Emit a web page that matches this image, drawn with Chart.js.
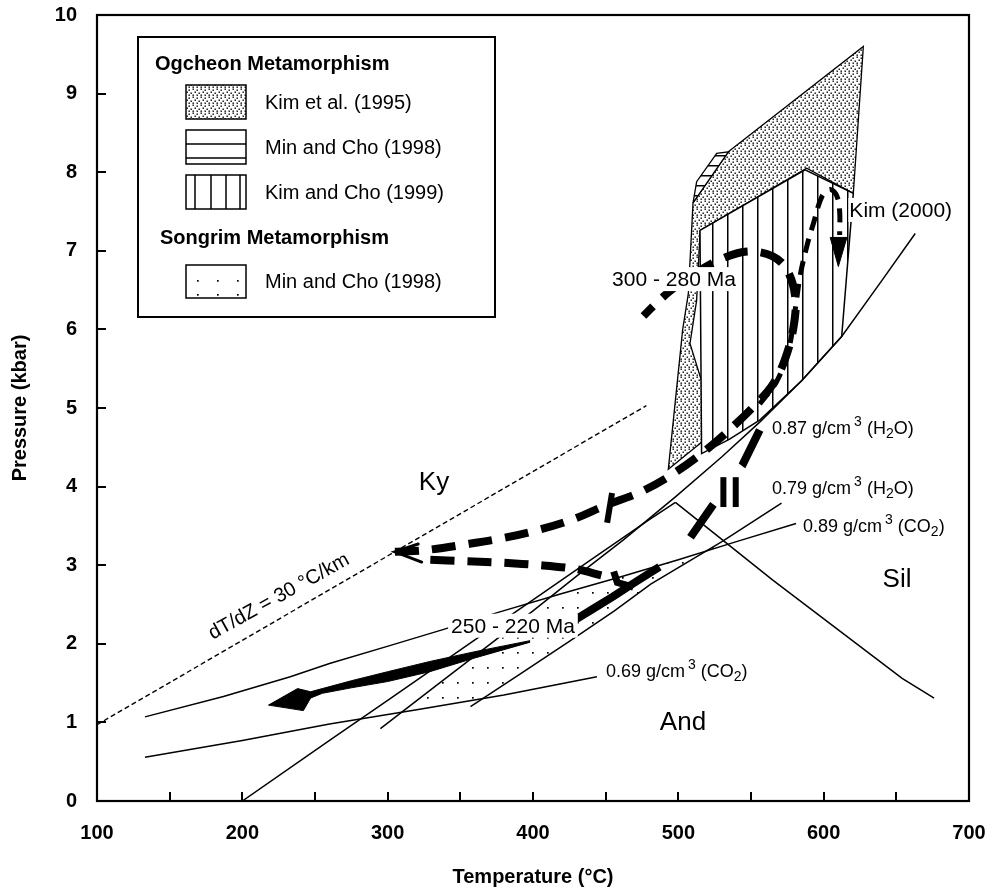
<!DOCTYPE html>
<html>
<head>
<meta charset="utf-8">
<title>P-T paths - Ogcheon and Songrim metamorphism</title>
<script src="https://cdn.jsdelivr.net/npm/chart.js@4.4.1/dist/chart.umd.min.js"></script>
<style>
  html, body { margin: 0; padding: 0; background: #fff; }
  #wrap { width: 990px; height: 895px; }
</style>
</head>
<body>
<div id="wrap"><canvas id="pt" width="990" height="895"></canvas></div>
<script>
// Axis ticks
const tempTickLabels = [100, 200, 300, 400, 500, 600, 700];
const pressTickLabels = [0, 1, 2, 3, 4, 5, 6, 7, 8, 9, 10];

// dT/dZ = 30 C/km geotherm
const geothermT = [100, 478];
const geothermP = [0.97, 5.03];

// Al2SiO5 reactions
const kyAndT = [200, 260, 300, 360, 400, 440, 480, 498];
const kyAndP = [0, 0.77, 1.28, 2.05, 2.56, 3.07, 3.58, 3.8];
const andSilT = [498, 565, 654, 676];
const andSilP = [3.8, 2.81, 1.56, 1.31];

// isochores
const iso087T = [295, 330, 373, 400, 430, 462, 498, 530, 556, 585, 612.4, 640, 663];
const iso087P = [0.92, 1.42, 2.03, 2.42, 2.86, 3.32, 3.87, 4.38, 4.82, 5.35, 5.91, 6.62, 7.22];
const iso079T = [357, 390, 425, 456, 481, 530, 571];
const iso079P = [1.2, 1.6, 2.03, 2.42, 2.76, 3.3, 3.79];
const iso089T = [133, 187, 233, 260, 302, 338, 376, 420, 460, 500, 540, 581];
const iso089P = [1.07, 1.33, 1.58, 1.75, 1.98, 2.18, 2.40, 2.64, 2.85, 3.07, 3.3, 3.53];
const iso069T = [133, 200, 260, 320, 380, 444];
const iso069P = [0.556, 0.77, 0.98, 1.16, 1.35, 1.58];

// Ogcheon fields
const kim95T = [534.4, 627.3, 620.4, 588.3, 515, 512.6, 508, 526.4, 493.1, 503, 506.9, 510.1, 534.4];
const kim95P = [8.26, 9.6, 7.73, 8.05, 7.26, 6.37, 5.82, 4.72, 4.22, 6.0, 6.46, 7.61, 8.26];
const minCho98T = [510.1, 512.6, 526.4, 534.4, 510.1];
const minCho98P = [7.61, 7.88, 8.24, 8.26, 7.61];
const kimCho99T = [514.9, 587.2, 620.4, 612.4, 585, 556.2, 535, 516, 514.9];
const kimCho99P = [7.26, 8.03, 7.73, 5.91, 5.35, 4.85, 4.6, 4.42, 7.26];

// Songrim field
const songrimT = [310, 366, 390, 425, 456, 481, 530, 500, 460, 410, 373, 330, 310];
const songrimP = [1.13, 1.31, 1.6, 2.03, 2.42, 2.76, 3.27, 3.07, 2.85, 2.58, 2.03, 1.42, 1.13];

// 300 - 280 Ma path (from arrow tip back to start)
const path300T = [305, 318, 330, 352, 378, 402, 427, 450, 475, 497, 518, 538, 555, 565, 573, 579, 580.5, 575, 565, 548, 530, 512, 495, 483, 476];
const path300P = [3.17, 3.18, 3.2, 3.26, 3.34, 3.44, 3.58, 3.76, 3.94, 4.17, 4.45, 4.77, 5.08, 5.3, 5.6, 6.0, 6.4, 6.75, 6.93, 6.99, 6.9, 6.72, 6.5, 6.3, 6.17];
const head300T = [321, 305, 323.4];
const head300P = [3.27, 3.17, 3.04];

// retrograde dashed segments
const dropT = [556, 544, 524, 507];
const dropP = [4.72, 4.27, 3.77, 3.32];
const returnT = [447, 430, 405, 380, 355, 327];
const returnP = [2.87, 2.95, 3.0, 3.03, 3.05, 3.07];
const bracketT = [455.5, 458, 469];
const bracketP = [2.92, 2.78, 2.72];

// 250 - 220 Ma path
const path250T = [425, 440, 455, 470, 487];
const path250P = [2.26, 2.43, 2.6, 2.78, 2.98];
const arrow250T = [398, 360, 329, 300, 275, 255, 247, 238, 218, 242, 247, 255, 275, 300, 329, 360, 398];
const arrow250P = [2.04, 1.90, 1.775, 1.645, 1.53, 1.43, 1.39, 1.43, 1.22, 1.15, 1.31, 1.37, 1.44, 1.52, 1.645, 1.82, 2.02];

// break marks
const markAT = [531, 531];
const markAP = [3.74, 4.12];
const markBT = [539.5, 539.5];
const markBP = [3.74, 4.12];
const markCT = [451, 454.4];
const markCP = [3.54, 3.92];

// Kim (2000) path
const kim2000T = [556, 568, 576, 580, 584, 589, 593, 599, 604.5, 609, 611, 611];
const kim2000P = [5.05, 5.35, 5.75, 6.2, 6.7, 7.1, 7.35, 7.7, 7.78, 7.7, 7.5, 7.2];
const kimHeadT = [604.5, 616, 610.1, 604.5];
const kimHeadP = [7.17, 7.17, 6.8, 7.17];

const FONT = "'Liberation Sans', Arial, Helvetica, sans-serif";

// fill patterns
const patCtx = document.createElement('canvas').getContext('2d');
function tile(w, h, paint) {
    const c = document.createElement('canvas');
    c.width = w;
    c.height = h;
    const g = c.getContext('2d');
    g.fillStyle = '#fff';
    g.fillRect(0, 0, w, h);
    g.fillStyle = '#000';
    paint(g);
    return patCtx.createPattern(c, 'repeat');
}
const densePattern = tile(8, 8, g => {
    [[0.5, 0.5], [4.5, 1.5], [2.5, 3.5], [6.5, 4.5], [0.5, 6.5], [4.5, 6.5]].forEach(d => g.fillRect(d[0], d[1], 1.4, 1.4));
});
const sparsePattern = tile(15, 15, g => g.fillRect(7, 7, 1.7, 1.7));
const vertPattern = tile(15, 4, g => g.fillRect(7, 0, 1.5, 4));
const horizPattern = tile(4, 10, g => g.fillRect(0, 5, 4, 1.5));

function series(xs, ys, opts) {
    return Object.assign({
        data: xs.map((x, i) => ({ x: x, y: ys[i] })),
        showLine: true,
        pointRadius: 0,
        pointHoverRadius: 0,
        borderColor: '#000',
        borderWidth: 1.5,
        backgroundColor: 'transparent',
        fill: false,
        tension: 0,
        borderCapStyle: 'butt',
        order: 20
    }, opts);
}

const datasets = [
    series(songrimT, songrimP, { polygon: sparsePattern, borderColor: 'rgba(0,0,0,0)', order: 40 }),
    series(kim95T, kim95P, { polygon: densePattern, borderWidth: 1.3, order: 32 }),
    series(minCho98T, minCho98P, { polygon: horizPattern, borderWidth: 1.3, order: 31 }),
    series(kimCho99T, kimCho99P, { polygon: vertPattern, borderWidth: 1.5, order: 30 }),
    series(geothermT, geothermP, { borderWidth: 1.4, borderDash: [5, 3] }),
    series(kyAndT, kyAndP),
    series(andSilT, andSilP),
    series(iso087T, iso087P),
    series(iso079T, iso079P),
    series(iso089T, iso089P),
    series(iso069T, iso069P),
    series(path300T, path300P, { borderWidth: 8, borderDash: [24, 13], tension: 0.35, order: 10 }),
    series(head300T, head300P, { borderWidth: 3, borderCapStyle: 'round', order: 10 }),
    series(dropT, dropP, { borderWidth: 8, borderDash: [40, 48], order: 10 }),
    series(returnT, returnP, { borderWidth: 8, borderDash: [24, 13], tension: 0.3, order: 10 }),
    series(bracketT, bracketP, { borderWidth: 7, order: 10 }),
    series(path250T, path250P, { borderWidth: 8, order: 10 }),
    series(arrow250T, arrow250P, { polygon: '#000', borderWidth: 1, order: 10 }),
    series(markAT, markAP, { borderWidth: 6, order: 9 }),
    series(markBT, markBP, { borderWidth: 6, order: 9 }),
    series(markCT, markCP, { borderWidth: 6, order: 9 }),
    series(kim2000T, kim2000P, { borderWidth: 5, borderDash: [14, 9], tension: 0.35, order: 9 }),
    series(kimHeadT, kimHeadP, { polygon: '#000', borderWidth: 1, order: 9 })
];

// text placed in the diagram (temperature, pressure)
const fieldLabels = [
    { text: 'Ky', t: 331.9, p: 4.05 },
    { text: 'Sil', t: 650.5, p: 2.81 },
    { text: 'And', t: 503.2, p: 1.0 }
];
const ageLabels = [
    { text: '300 - 280 Ma', t: 497, p: 6.64 },
    { text: '250 - 220 Ma', t: 386.2, p: 2.23 }
];
const isochoreLabels = [
    { den: '0.87', fluid: 'H', tail: 'O)', t: 564.5, p: 4.73 },
    { den: '0.79', fluid: 'H', tail: 'O)', t: 564.5, p: 3.97 },
    { den: '0.89', fluid: 'CO', tail: ')', t: 585.8, p: 3.49 },
    { den: '0.69', fluid: 'CO', tail: ')', t: 450.2, p: 1.64 }
];

function drawIsochoreLabel(ctx, lab, x, y) {
    const runs = [
        [lab.den + ' g/cm', 18, 0],
        ['3', 14, -7],
        [' (' + lab.fluid, 18, 0],
        ['2', 14, 5],
        [lab.tail, 18, 0]
    ];
    ctx.textAlign = 'left';
    ctx.textBaseline = 'middle';
    runs.forEach(r => {
        ctx.font = r[1] + 'px ' + FONT;
        if (r[0] === '3') x += 3;
        ctx.fillText(r[0], x, y + r[2]);
        x += ctx.measureText(r[0]).width;
    });
}

const polygonFill = {
    id: 'polygonFill',
    beforeDatasetDraw(chart, args) {
        const ds = chart.data.datasets[args.index];
        if (!ds.polygon) return;
        const pts = args.meta.data;
        const ctx = chart.ctx;
        ctx.save();
        ctx.beginPath();
        pts.forEach((pt, i) => i ? ctx.lineTo(pt.x, pt.y) : ctx.moveTo(pt.x, pt.y));
        ctx.closePath();
        ctx.fillStyle = ds.polygon;
        ctx.fill();
        ctx.restore();
    }
};

const decorations = {
    id: 'decorations',
    afterDatasetsDraw(chart) {
        const ctx = chart.ctx;
        const sx = chart.scales.x;
        const sy = chart.scales.y;
        const area = chart.chartArea;
        ctx.save();
        ctx.fillStyle = '#000';

        // age labels on white
        ctx.font = '21px ' + FONT;
        ctx.textAlign = 'center';
        ctx.textBaseline = 'middle';
        ageLabels.forEach(l => {
            const x = sx.getPixelForValue(l.t);
            const y = sy.getPixelForValue(l.p);
            const w = ctx.measureText(l.text).width;
            ctx.fillStyle = '#fff';
            ctx.fillRect(x - w / 2 - 3, y - 12, w + 6, 24);
            ctx.fillStyle = '#000';
            ctx.fillText(l.text, x, y + 1);
        });

        // Kim (2000)
        ctx.textAlign = 'left';
        const kx = sx.getPixelForValue(617);
        const ky = sy.getPixelForValue(7.52);
        const kw = ctx.measureText('Kim (2000)').width;
        ctx.fillStyle = '#fff';
        ctx.fillRect(kx, ky - 12, kw + 3, 24);
        ctx.fillStyle = '#000';
        ctx.fillText('Kim (2000)', kx + 1, ky + 1);

        // stability fields
        ctx.font = '26px ' + FONT;
        ctx.textAlign = 'center';
        fieldLabels.forEach(l => {
            ctx.fillText(l.text, sx.getPixelForValue(l.t), sy.getPixelForValue(l.p));
        });

        // isochores
        isochoreLabels.forEach(l => {
            drawIsochoreLabel(ctx, l, sx.getPixelForValue(l.t), sy.getPixelForValue(l.p));
        });

        // geotherm label
        ctx.save();
        ctx.translate(sx.getPixelForValue(225.2), sy.getPixelForValue(2.6));
        ctx.rotate(-29 * Math.PI / 180);
        ctx.font = '20px ' + FONT;
        ctx.textAlign = 'center';
        ctx.fillText('dT/dZ = 30 \u00B0C/km', 0, 0);
        ctx.restore();

        // frame and inward ticks
        ctx.strokeStyle = '#000';
        ctx.lineWidth = 2.2;
        ctx.strokeRect(area.left, area.top, area.right - area.left, area.bottom - area.top);
        ctx.lineWidth = 2;
        ctx.beginPath();
        sx.ticks.forEach(t => {
            if (t.value <= sx.min || t.value >= sx.max) return;
            const px = Math.round(sx.getPixelForValue(t.value));
            ctx.moveTo(px, area.bottom);
            ctx.lineTo(px, area.bottom - 9);
        });
        sy.ticks.forEach(t => {
            if (t.value <= sy.min || t.value >= sy.max) return;
            const py = Math.round(sy.getPixelForValue(t.value));
            ctx.moveTo(area.left, py);
            ctx.lineTo(area.left + 9, py);
        });
        ctx.stroke();

        // legend
        const lx = area.left + 41;
        const ly = area.top + 22;
        ctx.fillStyle = '#fff';
        ctx.fillRect(lx, ly, 357, 280);
        ctx.lineWidth = 2;
        ctx.strokeRect(lx, ly, 357, 280);
        ctx.fillStyle = '#000';
        ctx.textAlign = 'left';
        ctx.textBaseline = 'middle';
        ctx.font = 'bold 20px ' + FONT;
        ctx.fillText('Ogcheon Metamorphism', lx + 17, ly + 27);
        ctx.fillText('Songrim Metamorphism', lx + 22, ly + 201);
        ctx.font = '20px ' + FONT;
        const sw = lx + 48;
        const entries = [
            { text: 'Kim et al. (1995)', top: ly + 48, h: 34 },
            { text: 'Min and Cho (1998)', top: ly + 93, h: 34 },
            { text: 'Kim and Cho (1999)', top: ly + 138, h: 34 },
            { text: 'Min and Cho (1998)', top: ly + 228, h: 33 }
        ];
        entries.forEach((e, i) => {
            ctx.fillStyle = i === 0 ? densePattern : '#fff';
            ctx.fillRect(sw, e.top, 60, e.h);
            ctx.fillStyle = '#000';
            ctx.lineWidth = 1.5;
            ctx.beginPath();
            if (i === 1) {
                ctx.moveTo(sw, e.top + 14); ctx.lineTo(sw + 60, e.top + 14);
                ctx.moveTo(sw, e.top + 28); ctx.lineTo(sw + 60, e.top + 28);
            } else if (i === 2) {
                [9, 25, 40, 54].forEach(d => { ctx.moveTo(sw + d, e.top); ctx.lineTo(sw + d, e.top + e.h); });
            } else if (i === 3) {
                [11, 31, 51].forEach(d => {
                    ctx.fillRect(sw + d, e.top + 15, 1.7, 1.7);
                    ctx.fillRect(sw + d, e.top + 29, 1.7, 1.7);
                });
            }
            ctx.stroke();
            ctx.strokeRect(sw, e.top, 60, e.h);
            ctx.fillText(e.text, sw + 79, e.top + e.h / 2 + 1);
        });
        ctx.restore();
    }
};

const tickFont = { family: FONT, size: 20, weight: 'bold' };

// keep the plot frame where the reference has it
function noOverhang(s) {
    s.paddingLeft = 0;
    s.paddingRight = 0;
    s.paddingTop = 0;
    s.paddingBottom = 0;
}

new Chart(document.getElementById('pt'), {
    type: 'scatter',
    data: { datasets: datasets },
    options: {
        responsive: false,
        animation: false,
        devicePixelRatio: 1,
        events: [],
        layout: { padding: { top: 15, right: 21, left: 0, bottom: 0 } },
        plugins: {
            legend: { display: false },
            tooltip: { enabled: false }
        },
        scales: {
            x: {
                type: 'linear',
                min: tempTickLabels[0],
                max: tempTickLabels[tempTickLabels.length - 1],
                grid: { display: false, drawTicks: false },
                border: { display: false },
                ticks: {
                    stepSize: 50,
                    autoSkip: false,
                    maxRotation: 0,
                    padding: 20,
                    color: '#000',
                    font: tickFont,
                    callback: v => tempTickLabels.includes(v) ? String(v) : ''
                },
                title: {
                    display: true,
                    text: 'Temperature (\u00B0C)',
                    color: '#000',
                    font: tickFont,
                    padding: { top: 0, bottom: 6 }
                },
                afterFit: s => { s.height = 94; noOverhang(s); }
            },
            y: {
                type: 'linear',
                min: pressTickLabels[0],
                max: pressTickLabels[pressTickLabels.length - 1],
                grid: { display: false, drawTicks: false },
                border: { display: false },
                ticks: {
                    stepSize: 1,
                    autoSkip: false,
                    padding: 20,
                    color: '#000',
                    font: tickFont,
                    callback: v => pressTickLabels.includes(v) ? String(v) : ''
                },
                title: {
                    display: true,
                    text: 'Pressure (kbar)',
                    color: '#000',
                    font: tickFont,
                    padding: { top: 8, bottom: 0 }
                },
                afterFit: s => { s.width = 97; noOverhang(s); }
            }
        }
    },
    plugins: [polygonFill, decorations]
});
</script>
</body>
</html>
